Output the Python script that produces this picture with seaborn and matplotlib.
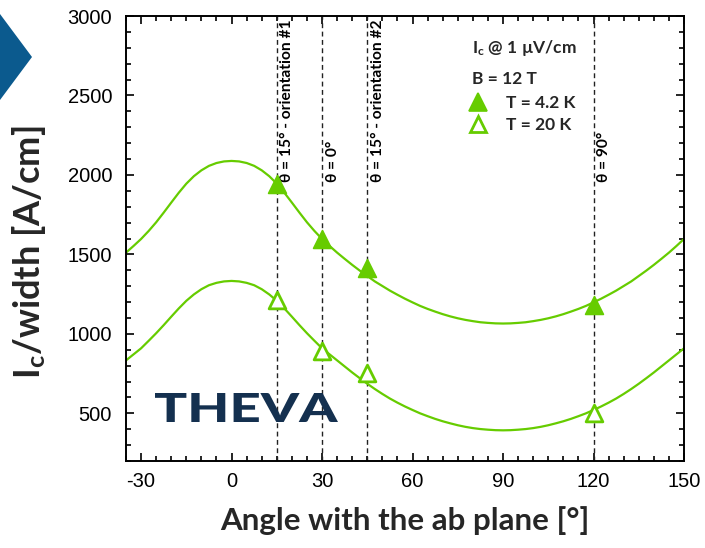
import matplotlib
matplotlib.use('Agg')
import matplotlib.pyplot as plt
from matplotlib.patches import Polygon, PathPatch
from matplotlib.textpath import TextPath
from matplotlib.font_manager import FontProperties
from matplotlib.transforms import Affine2D
from matplotlib.ticker import MultipleLocator
from matplotlib.lines import Line2D
import seaborn as sns

# fitted curves, every 2.5 degrees from -35 to 150
angles = [i * 2.5 for i in range(-14, 61)]
fit_4k = [1511, 1553, 1597, 1647, 1702, 1763, 1826, 1888, 1945, 1992, 2029, 2057, 2075, 2085,
          2088, 2085, 2075, 2057, 2029, 1992, 1945, 1888, 1826, 1763, 1702, 1647, 1597, 1553,
          1511, 1472, 1434, 1398, 1364, 1330, 1301, 1272, 1246, 1221, 1198, 1176, 1157, 1140,
          1124, 1110, 1098, 1088, 1080, 1073, 1069, 1066, 1065, 1066, 1069, 1073, 1080, 1088,
          1098, 1110, 1124, 1140, 1157, 1176, 1198, 1221, 1246, 1272, 1301, 1330, 1364, 1398,
          1434, 1472, 1511, 1553, 1597]
fit_20k = [833, 871, 909, 956, 1004, 1055, 1108, 1160, 1208, 1248, 1281, 1306, 1321, 1330,
           1333, 1330, 1321, 1306, 1281, 1248, 1208, 1160, 1108, 1055, 1004, 956, 909, 871,
           833, 795, 757, 721, 686, 653, 622, 593, 567, 543, 521, 500, 482, 465,
           450, 437, 425, 415, 407, 401, 397, 394, 393, 394, 397, 401, 407, 415,
           425, 437, 450, 465, 482, 500, 521, 543, 567, 593, 622, 653, 686, 721,
           757, 795, 833, 871, 909]

# measured points
meas_angles = [15, 30, 45, 120]
meas_4k = [1945, 1595, 1412, 1180]
meas_20k = [1214, 893, 753, 501]

orient_angles = [15, 30, 45, 120]
orient_labels = ['θ = 15° - orientation #1', 'θ = 0°', 'θ = 15° - orientation #2', 'θ = 90°']

green = '#66cc00'
navy = '#14304f'
bold_fam = ['Lato', 'DejaVu Sans']

sns.set_style('ticks')
plt.rcParams['font.family'] = ['Liberation Sans', 'DejaVu Sans']
plt.rcParams['mathtext.default'] = 'regular'
plt.rcParams['axes.unicode_minus'] = False

fig = plt.figure(figsize=(7.05, 5.48), dpi=100)
ax = fig.add_axes([126 / 705, 87 / 548, 558 / 705, 445 / 548])

for a in orient_angles:
    ax.axvline(a, color='#222222', lw=1.0, ls=(0, (3.5, 2.5)), zorder=1)
for a, lab in zip(orient_angles, orient_labels):
    ax.text(a + 1.2, 1955, lab, rotation=90, ha='left', va='bottom',
            fontsize=11.2, fontweight='bold', family=bold_fam, color='black')

sns.lineplot(x=angles, y=fit_4k, color=green, lw=1.6, ax=ax, zorder=2)
sns.lineplot(x=angles, y=fit_20k, color=green, lw=1.6, ax=ax, zorder=2)
sns.scatterplot(x=meas_angles, y=meas_4k, marker='^', s=165, color=green,
                edgecolor=green, linewidth=1.2, ax=ax, zorder=3)
sns.scatterplot(x=meas_angles, y=meas_20k, marker='^', s=145, facecolor='white',
                edgecolor=green, linewidth=2.0, ax=ax, zorder=3)

ax.set_xlim(-35, 150)
ax.set_ylim(200, 3000)
ax.xaxis.set_major_locator(MultipleLocator(30))
ax.xaxis.set_minor_locator(MultipleLocator(5))
ax.yaxis.set_major_locator(MultipleLocator(500))
ax.yaxis.set_minor_locator(MultipleLocator(100))
ax.tick_params(which='both', direction='in', top=True, right=True, width=1.2, colors='black')
ax.tick_params(which='major', length=6, labelsize=14.5)
ax.tick_params(which='minor', length=3.5)
ax.tick_params(axis='x', which='major', pad=8)
ax.tick_params(axis='y', which='major', pad=10)
for s in ax.spines.values():
    s.set_linewidth(1.4)
    s.set_color('black')

ax.set_xlabel('Angle with the ab plane [°]', fontsize=22.5, fontweight='bold',
              family=bold_fam, labelpad=11)
ax.set_ylabel(r'I$_{c}$/width [A/cm]', fontsize=26, fontweight='bold', family=bold_fam)
ax.yaxis.set_label_coords(-0.14, 0.47)

# legend block
ax.text(0.620, 0.928, r'I$_{c}$ @ 1 µV/cm', transform=ax.transAxes, ha='left', va='center',
        fontsize=12.5, fontweight='bold', family=bold_fam)
ax.text(0.620, 0.858, 'B = 12 T', transform=ax.transAxes, ha='left', va='center',
        fontsize=12.5, fontweight='bold', family=bold_fam)
handles = [Line2D([], [], ls='', marker='^', ms=13, mfc=green, mec=green, mew=1.2),
           Line2D([], [], ls='', marker='^', ms=12, mfc='white', mec=green, mew=2.0)]
ax.legend(handles, ['T = 4.2 K', 'T = 20 K'], loc='upper left', bbox_to_anchor=(0.613, 0.822),
          frameon=False, borderpad=0, borderaxespad=0, handlelength=1.2, handletextpad=1.0,
          labelspacing=0.35, prop={'family': bold_fam, 'weight': 'bold', 'size': 12.5})

# THEVA logo text, stretched to the logo box
tp = TextPath((0, 0), 'THEVA', size=1, prop=FontProperties(family='Lato', weight='black'))
ext = tp.get_extents()
x0, y0, w, h = 155 / 705, (548 - 422) / 548, 183 / 705, 29 / 548
tr = Affine2D().translate(-ext.x0, -ext.y0).scale(w / ext.width, h / ext.height).translate(x0, y0)
fig.add_artist(PathPatch(tp, transform=tr + fig.transFigure, color=navy, lw=0))

# blue chevron at the top left corner
fig.add_artist(Polygon([(0, 1 - 14 / 548), (32 / 705, 1 - 57 / 548), (0, 1 - 100 / 548)],
                       closed=True, transform=fig.transFigure, color='#0b5a8e', lw=0))

fig.savefig('out.png', dpi=100)
